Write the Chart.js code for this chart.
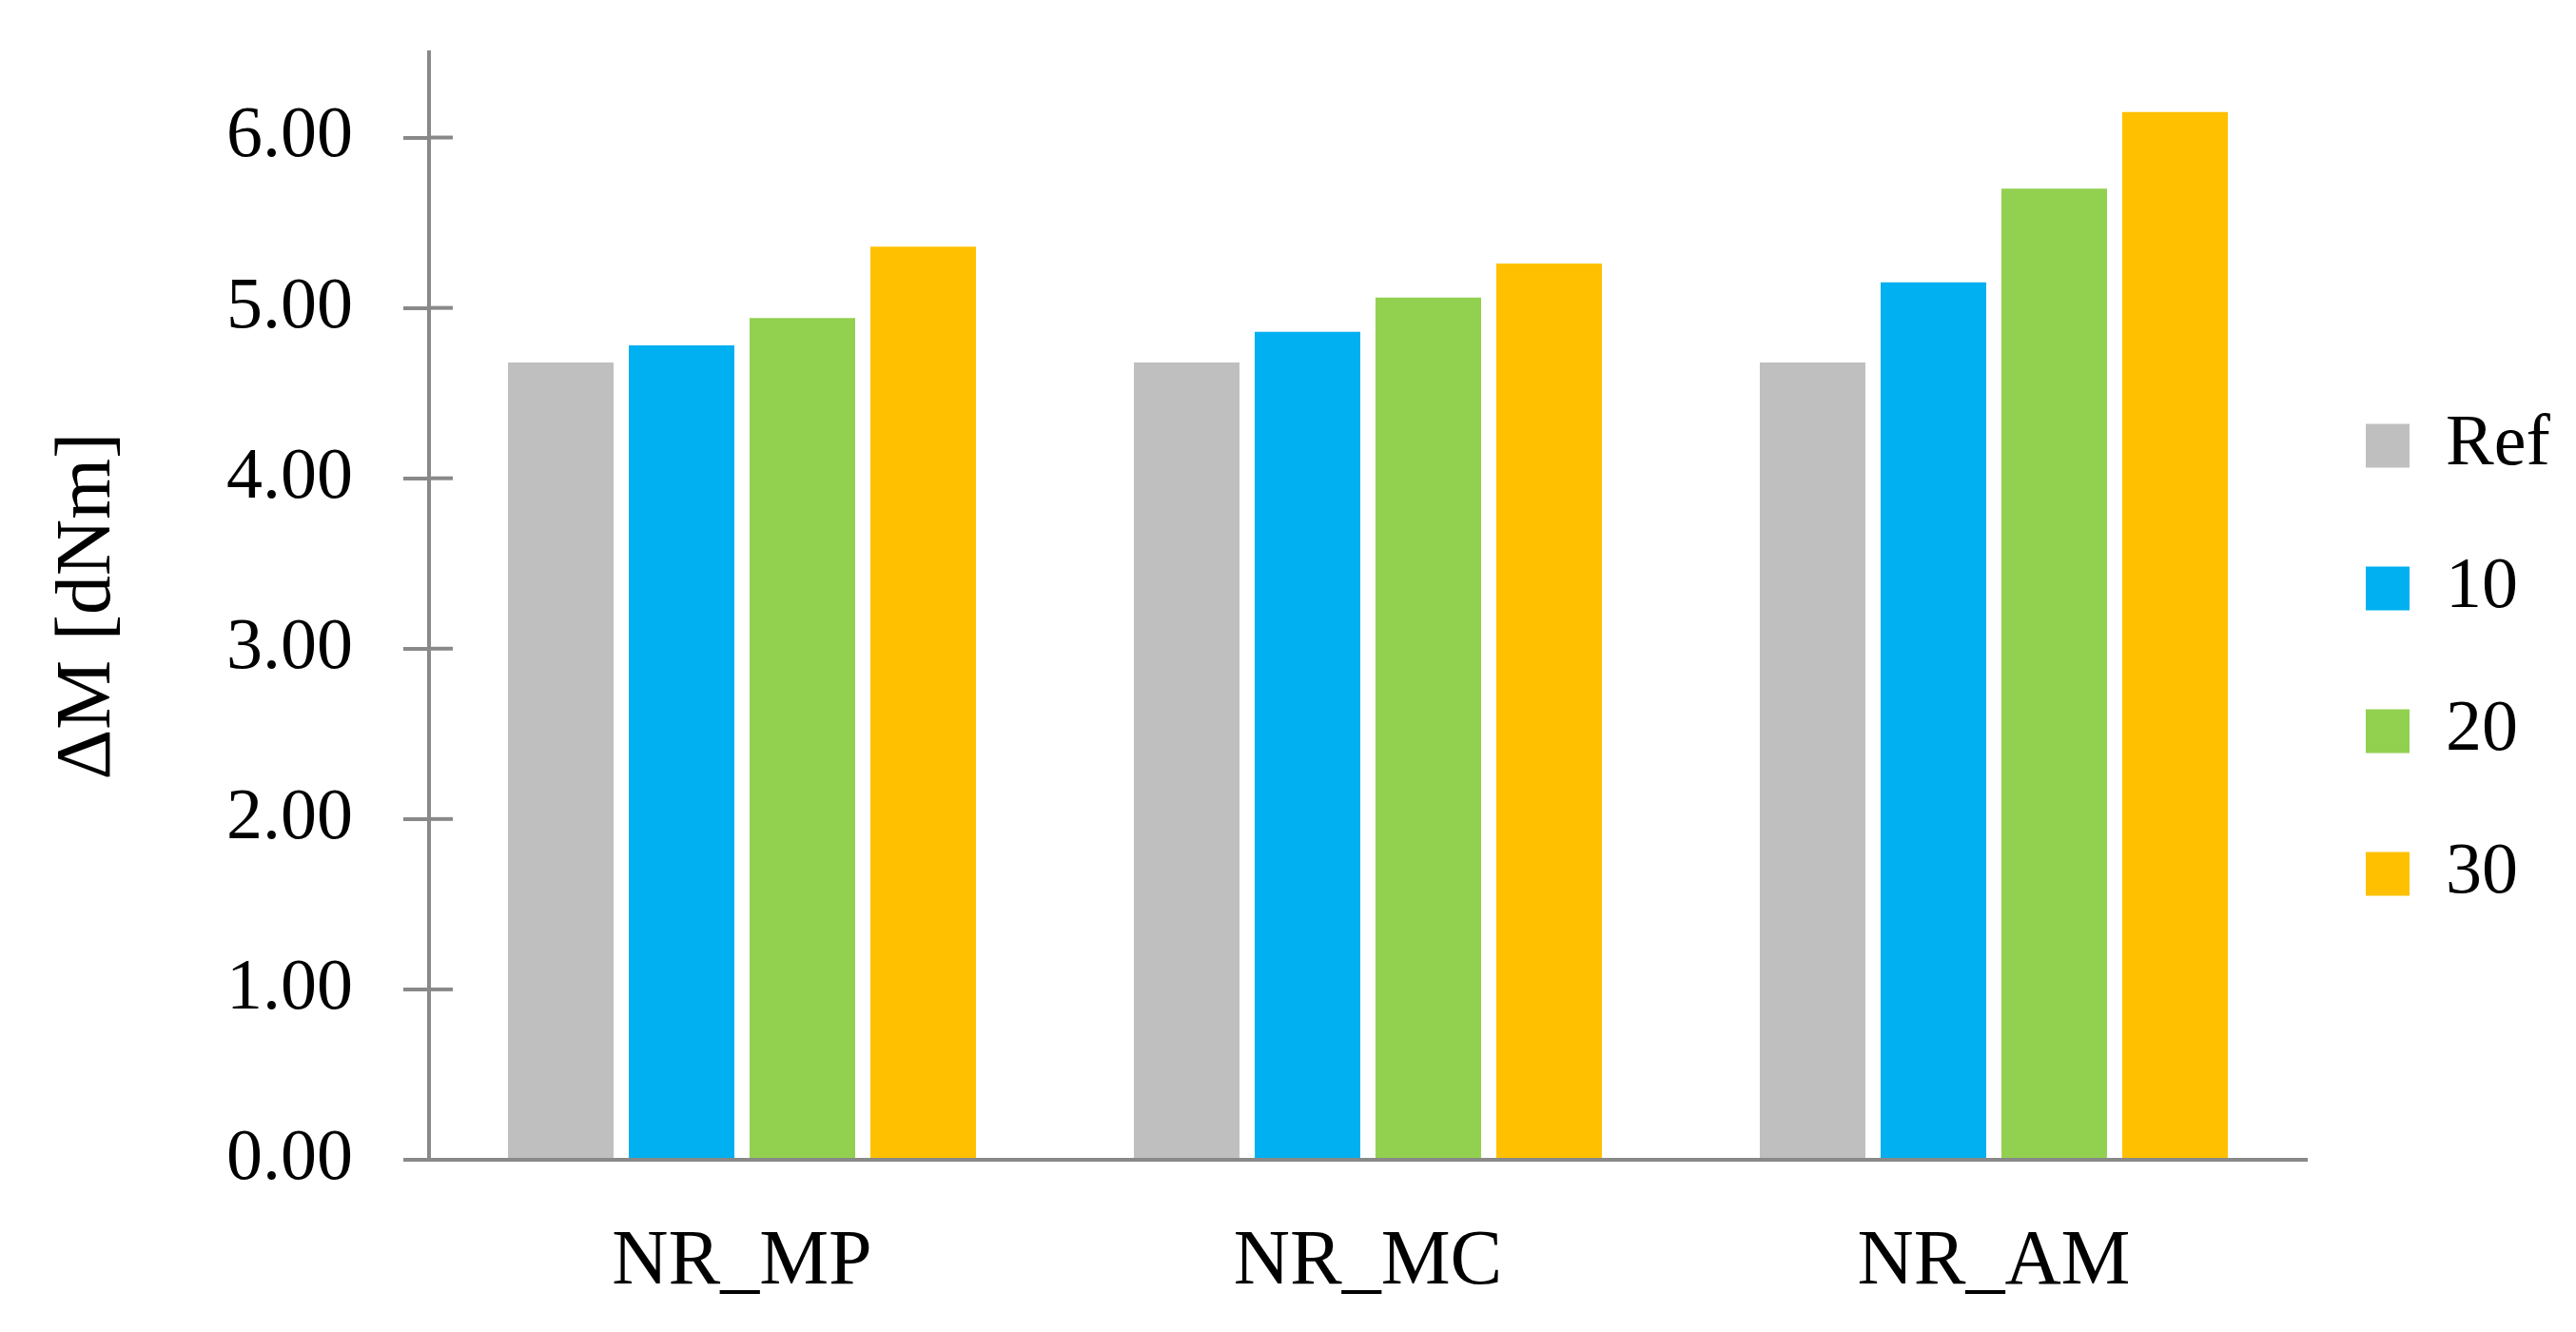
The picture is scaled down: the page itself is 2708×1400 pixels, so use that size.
<!DOCTYPE html>
<html>
<head>
<meta charset="utf-8">
<script src="https://cdn.jsdelivr.net/npm/chart.js@4"></script>
<style>
  html, body { margin: 0; padding: 0; background: #ffffff; }
  #wrap { width: 2708px; height: 1400px; }
</style>
</head>
<body>
<div id="wrap"><canvas id="c" width="2708" height="1400"></canvas></div>
<script>
// ---- data ----
const categories = ['NR_MP', 'NR_MC', 'NR_AM'];
const seriesNames = ['Ref', '10', '20', '30'];
const refValues = [4.68, 4.68, 4.68];
const s10Values = [4.78, 4.86, 5.15];
const s20Values = [4.94, 5.06, 5.70];
const s30Values = [5.36, 5.26, 6.15];
const yTicks = [0, 1, 2, 3, 4, 5, 6];
const yTitle = 'ΔM [dNm]';

// ---- styles ----
const colors = ['#BFBFBF', '#00B0F0', '#92D050', '#FFC000'];
const axisColor = '#898989';
const FONT = "'Liberation Serif', 'Times New Roman', serif";

const tickCross = {
  id: 'tickCross',
  afterDraw(chart) {
    const s = chart.scales.y;
    const ctx = chart.ctx;
    ctx.save();
    ctx.strokeStyle = axisColor;
    ctx.lineWidth = 4;
    s.ticks.forEach(t => {
      const y = s.getPixelForValue(t.value);
      ctx.beginPath();
      ctx.moveTo(s.right, y);
      ctx.lineTo(s.right + 25, y);
      ctx.stroke();
    });
    ctx.restore();
  }
};

const legendPlace = {
  id: 'legendPlace',
  beforeLayout(chart) {
    const lg = chart.legend;
    if (lg && !lg.__patched) {
      lg.__patched = true;
      const orig = lg.fit;
      lg.fit = function () { orig.call(this); this.width = 283; };
    }
  },
  afterLayout(chart) {
    const lg = chart.legend;
    if (!lg) return;
    const dx = -12, dy = -34;
    lg.left += dx; lg.right += dx;
    lg.top += dy; lg.bottom += dy;
  }
};

new Chart(document.getElementById('c'), {
  type: 'bar',
  data: {
    labels: categories,
    datasets: [refValues, s10Values, s20Values, s30Values].map((v, i) => ({
      label: seriesNames[i],
      data: v,
      backgroundColor: colors[i],
      borderWidth: 0,
      categoryPercentage: 0.772,
      barPercentage: 0.874
    }))
  },
  options: {
    responsive: false,
    devicePixelRatio: 1,
    animation: false,
    layout: { padding: { top: 55, left: 0, right: 0, bottom: 0 } },
    plugins: {
      tooltip: { enabled: false },
      legend: {
        position: 'right',
        align: 'center',
        labels: {
          boxWidth: 46,
          boxHeight: 46,
          padding: 74,
          color: '#000000',
          font: { family: FONT, size: 76 }
        }
      }
    },
    scales: {
      x: {
        grid: { display: false, drawTicks: false },
        border: { display: true, color: axisColor, width: 4 },
        ticks: { color: '#000000', padding: 59, font: { family: FONT, size: 82 } },
        afterFit(scale) { scale.height = 181; scale.paddingLeft = 0; scale.paddingRight = 0; }
      },
      y: {
        min: 0,
        max: 6.5,
        afterBuildTicks(scale) { scale.ticks = yTicks.map(v => ({ value: v })); },
        grid: { display: true, drawOnChartArea: false, drawTicks: true, tickLength: 27, color: axisColor, lineWidth: 4 },
        border: { display: true, color: axisColor, width: 4 },
        ticks: {
          color: '#000000',
          padding: 53,
          font: { family: FONT, size: 76 },
          callback: v => Number(v).toFixed(2)
        },
        title: {
          display: true,
          text: yTitle,
          color: '#000000',
          font: { family: FONT, size: 82 },
          padding: { top: 44, bottom: 0 }
        },
        afterFit(scale) { scale.width = 451; scale.paddingTop = 0; scale.paddingBottom = 0; }
      }
    }
  },
  plugins: [tickCross, legendPlace]
});
</script>
</body>
</html>
